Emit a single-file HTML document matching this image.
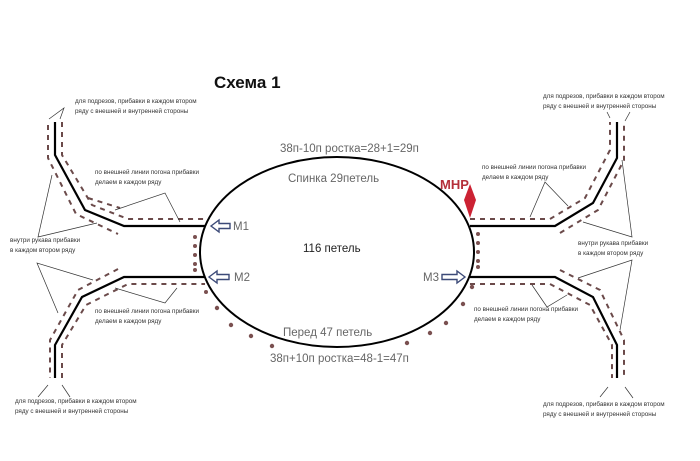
<!DOCTYPE html>
<html><head><meta charset="utf-8"><style>
html,body{margin:0;padding:0;background:#fff}
svg{display:block}
text{font-family:"Liberation Sans",sans-serif}
.s{font-size:6.3px;fill:#333}
.g{font-size:11.5px;fill:#666}
</style></head><body>
<svg width="700" height="461" viewBox="0 0 700 461" xmlns="http://www.w3.org/2000/svg">
<rect width="700" height="461" fill="#fff"/>
<text x="214" y="88" font-size="17" font-weight="bold" fill="#111">Схема 1</text>
<ellipse cx="337" cy="252" rx="137" ry="95" fill="none" stroke="#000" stroke-width="2"/>
<g fill="none" stroke="#000" stroke-width="2.2">
<polyline points="55,122 55,155 85,210 124,226 205,226"/>
<polyline points="205,277 124,277 82,297 55,345 55,378"/>
<polyline points="617,122 617,158 593,203 555,226 470,226"/>
<polyline points="470,277 555,277 593,297 617,345 617,378"/>
</g>
<g fill="none" stroke="#6b4a4a" stroke-width="2" stroke-dasharray="5,5">
<polyline points="48,125 48,158 76,214 118,234"/>
<polyline points="62,122 62,155 92,205 128,219 205,219"/>
<polyline points="88,198 120,208"/>
<polyline points="118,269 78,290 50,340 50,378"/>
<polyline points="62,378 62,345 86,305 128,284 205,284"/>
<polyline points="470,219 550,219 585,198 610,150 610,122"/>
<polyline points="560,233 598,210 624,160 624,122"/>
<polyline points="470,284 550,284 590,305 612,345 612,378"/>
<polyline points="560,270 600,290 624,340 624,378"/>
</g>
<g fill="#7a5050">
<circle cx="195" cy="237" r="2"/><circle cx="195" cy="246" r="2"/><circle cx="195" cy="255" r="2"/><circle cx="195" cy="264" r="2"/><circle cx="195" cy="270" r="2"/>
<circle cx="478" cy="234" r="2"/><circle cx="478" cy="243" r="2"/><circle cx="478" cy="252" r="2"/><circle cx="478" cy="261" r="2"/><circle cx="478" cy="267" r="2"/>
<circle cx="206" cy="292" r="2"/><circle cx="217" cy="308" r="2.2"/><circle cx="231" cy="325" r="2.2"/><circle cx="251" cy="336" r="2.2"/><circle cx="272" cy="346" r="2.2"/>
<circle cx="472" cy="287" r="2.2"/><circle cx="463" cy="304" r="2.2"/><circle cx="446" cy="323" r="2.2"/><circle cx="430" cy="333" r="2.2"/><circle cx="407" cy="343" r="2.2"/>
</g>
<g stroke="#333" stroke-width="0.7" fill="none">
<polyline points="49,119 64,108 60,119"/>
<polyline points="115,210 165,193 180,222"/>
<polyline points="52,175 38,237 97,223"/>
<polyline points="93,280 37,263 58,313"/>
<polyline points="115,288 165,303 177,288"/>
<polyline points="38,397 48,385"/><polyline points="62,385 70,397"/>
<polyline points="607,112 610,118"/><polyline points="630,112 625,121"/>
<polyline points="530,217 545,182 568,206"/>
<polyline points="622,160 632,237 583,222"/>
<polyline points="578,278 632,260 620,330"/>
<polyline points="532,285 547,307 567,295"/>
<polyline points="600,397 608,387"/><polyline points="625,387 633,398"/>
</g>
<text class="s" x="75" y="103">для подрезов, прибавки в каждом втором</text>
<text class="s" x="75" y="113">ряду с внешней и внутренней стороны</text>
<text class="s" x="95" y="174">по внешней линии погона прибавки</text>
<text class="s" x="95" y="184">делаем в каждом ряду</text>
<text class="s" x="10" y="242">внутри рукава прибавки</text>
<text class="s" x="10" y="252">в каждом втором ряду</text>
<text class="s" x="95" y="313">по внешней линии погона прибавки</text>
<text class="s" x="95" y="323">делаем в каждом ряду</text>
<text class="s" x="15" y="403">для подрезов, прибавки в каждом втором</text>
<text class="s" x="15" y="413">ряду с внешней и внутренней стороны</text>
<text class="s" x="543" y="98">для подрезов, прибавки в каждом втором</text>
<text class="s" x="543" y="108">ряду с внешней и внутренней стороны</text>
<text class="s" x="482" y="169">по внешней линии погона прибавки</text>
<text class="s" x="482" y="179">делаем в каждом ряду</text>
<text class="s" x="578" y="245">внутри рукава прибавки</text>
<text class="s" x="578" y="255">в каждом втором ряду</text>
<text class="s" x="474" y="311">по внешней линии погона прибавки</text>
<text class="s" x="474" y="321">делаем в каждом ряду</text>
<text class="s" x="543" y="406">для подрезов, прибавки в каждом втором</text>
<text class="s" x="543" y="416">ряду с внешней и внутренней стороны</text>
<text class="g" x="280" y="152">38п-10п ростка=28+1=29п</text>
<text class="g" x="288" y="182">Спинка 29петель</text>
<text x="303" y="252" font-size="11.5" fill="#222">116 петель</text>
<text class="g" x="283" y="336">Перед 47 петель</text>
<text class="g" x="270" y="362">38п+10п ростка=48-1=47п</text>
<text class="g" x="233" y="230" fill="#445">M1</text>
<text class="g" x="234" y="281" fill="#445">M2</text>
<text class="g" x="423" y="281" fill="#445">M3</text>
<g fill="#fff" stroke="#3c4a78" stroke-width="1.4">
<polygon points="211,226 219,220 219,223.5 230,223.5 230,228.5 219,228.5 219,232"/>
<polygon points="209,277 217,271 217,274.5 229,274.5 229,279.5 217,279.5 217,283"/>
<polygon points="465,277 457,271 457,274.5 442,274.5 442,279.5 457,279.5 457,283"/>
</g>
<text x="440" y="189" font-size="13" font-weight="bold" fill="#b5303a">МНР</text>
<polygon points="470,184 476,200 470,218 464,200" fill="#cc2233"/>
</svg>
</body></html>
